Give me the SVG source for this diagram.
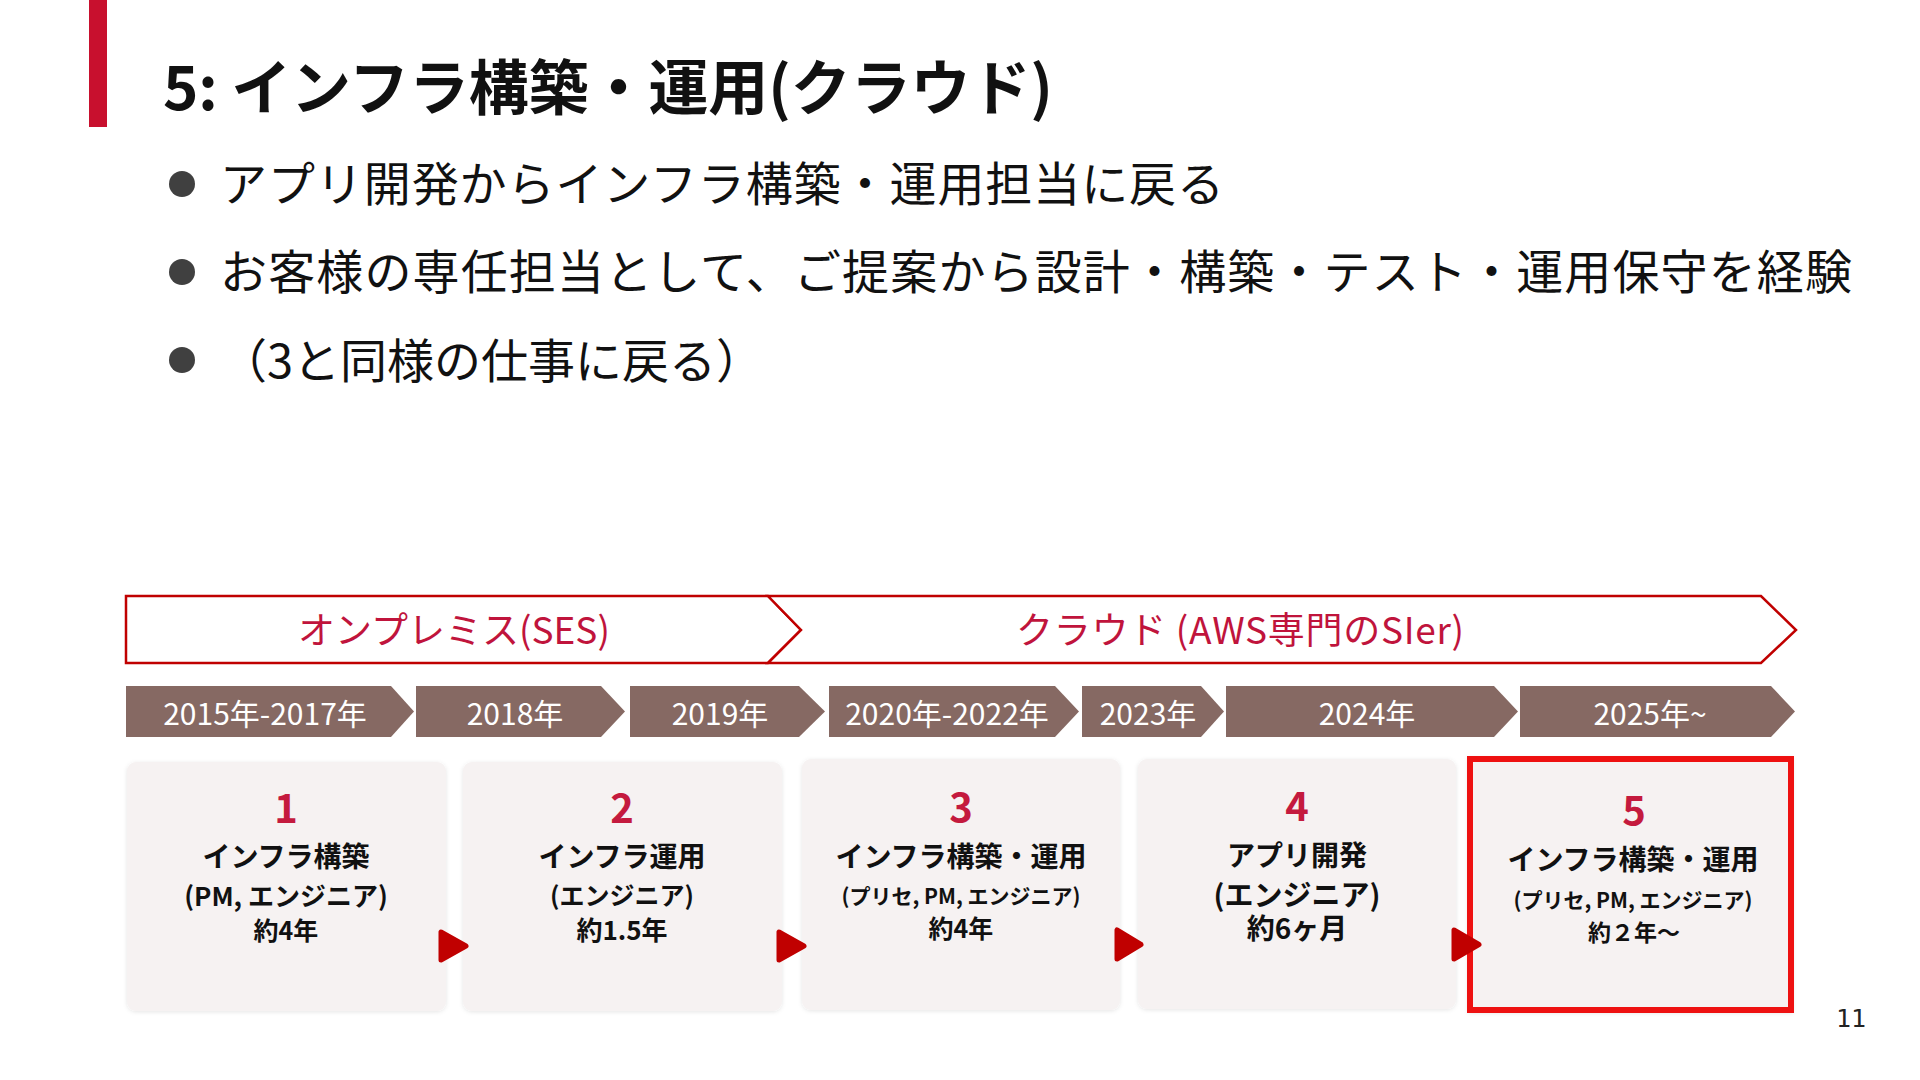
<svg xmlns="http://www.w3.org/2000/svg" width="1920" height="1080" viewBox="0 0 1920 1080">
<defs>
<style>
text{font-family:"Noto Sans CJK JP","Noto Sans",sans-serif}
.title{font-size:60px;font-weight:700;fill:#111}
.bul{font-size:47px;fill:#111}
.dot{fill:#404040}
.band{fill:#fff;stroke:#C00000;stroke-width:2.5;stroke-linejoin:miter}
.bandt{font-size:37px;fill:#C0143C;text-anchor:middle}
.yr{fill:#866963}
.yrt{font-size:30px;fill:#fff;text-anchor:middle}
.card{fill:#F6F2F2}
.num{font-size:40px;font-weight:700;fill:#C41A3E;text-anchor:middle}
.main{font-size:28px;font-weight:700;fill:#111;text-anchor:middle}
.sub{font-weight:700;fill:#111;text-anchor:middle}
.arr{fill:#C00000;stroke:#C00000;stroke-width:5;stroke-linejoin:round}
</style>
<filter id="sh" x="-5%" y="-5%" width="110%" height="110%">
<feDropShadow dx="0" dy="1" stdDeviation="2" flood-color="#000" flood-opacity="0.10"/>
</filter>
</defs>
<rect width="1920" height="1080" fill="#fff"/>
<rect x="89" y="0" width="18" height="127" fill="#C8102E"/>
<text class="title" x="163" y="110" textLength="890" lengthAdjust="spacing">5: インフラ構築・運用(クラウド)</text>

<g id="bullets">
<circle class="dot" cx="182" cy="184" r="13"/>
<text class="bul" x="220" y="201" textLength="1004" lengthAdjust="spacing">アプリ開発からインフラ構築・運用担当に戻る</text>
<circle class="dot" cx="182" cy="272" r="13"/>
<text class="bul" x="220" y="289" textLength="1632" lengthAdjust="spacing">お客様の専任担当として、ご提案から設計・構築・テスト・運用保守を経験</text>
<circle class="dot" cx="182" cy="360" r="13"/>
<text class="bul" x="220" y="378">（3と同様の仕事に戻る）</text>
</g>

<g id="band-onprem">
<path class="band" d="M126,596 H768 L801,630 L768,663 H126 Z"/>
<text class="bandt" x="454" y="644">オンプレミス(SES)</text>
</g>
<g id="band-cloud">
<path class="band" d="M768,596 H1761 L1796,630 L1761,663 H768 L801,630 Z"/>
<text class="bandt" x="1240" y="644" textLength="448" lengthAdjust="spacing">クラウド (AWS専門のSIer)</text>
</g>

<g id="years">
<g id="y1"><path class="yr" d="M126,686 H391 L414,711.5 L391,737 H126 Z"/><text class="yrt" x="265" y="725">2015年-2017年</text></g>
<g id="y2"><path class="yr" d="M416,686 H601 L625,711.5 L601,737 H416 Z"/><text class="yrt" x="515" y="725">2018年</text></g>
<g id="y3"><path class="yr" d="M630,686 H799 L825,711.5 L799,737 H630 Z"/><text class="yrt" x="720" y="725">2019年</text></g>
<g id="y4"><path class="yr" d="M829,686 H1055 L1079,711.5 L1055,737 H829 Z"/><text class="yrt" x="947" y="725">2020年-2022年</text></g>
<g id="y5"><path class="yr" d="M1082,686 H1201 L1224,711.5 L1201,737 H1082 Z"/><text class="yrt" x="1148" y="725">2023年</text></g>
<g id="y6"><path class="yr" d="M1226,686 H1494 L1518,711.5 L1494,737 H1226 Z"/><text class="yrt" x="1367" y="725">2024年</text></g>
<g id="y7"><path class="yr" d="M1520,686 H1771 L1795,711.5 L1771,737 H1520 Z"/><text class="yrt" x="1650" y="725">2025年~</text></g>
</g>

<g id="card1">
<rect class="card" filter="url(#sh)" x="127" y="762" width="319" height="249" rx="9"/>
<text class="num" x="286" y="823">1</text>
<text class="main" x="286" y="867">インフラ構築</text>
<text class="sub" x="286" y="906" font-size="26">(PM, エンジニア)</text>
<text class="sub" x="286" y="940" font-size="25">約4年</text>
</g>
<g id="card2">
<rect class="card" filter="url(#sh)" x="463" y="762" width="319" height="249" rx="9"/>
<text class="num" x="622" y="823">2</text>
<text class="main" x="622" y="867">インフラ運用</text>
<text class="sub" x="622" y="905" font-size="25">(エンジニア)</text>
<text class="sub" x="622" y="940" font-size="26">約1.5年</text>
</g>
<g id="card3">
<rect class="card" filter="url(#sh)" x="802" y="759" width="318" height="251" rx="9"/>
<text class="num" x="961" y="822">3</text>
<text class="main" x="961" y="867">インフラ構築・運用</text>
<text class="sub" x="961" y="904" font-size="21">(プリセ, PM, エンジニア)</text>
<text class="sub" x="961" y="938" font-size="25">約4年</text>
</g>
<g id="card4">
<rect class="card" filter="url(#sh)" x="1138" y="759" width="318" height="250" rx="9"/>
<text class="num" x="1297" y="821">4</text>
<text class="main" x="1297" y="866">アプリ開発</text>
<text class="sub" x="1297" y="906" font-size="29">(エンジニア)</text>
<text class="sub" x="1297" y="939" font-size="28">約6ヶ月</text>
</g>
<g id="card5">
<rect class="card" filter="url(#sh)" x="1468" y="757" width="325" height="255"/>
<rect x="1470" y="759" width="321" height="251" fill="none" stroke="#EE1111" stroke-width="6"/>
<text class="num" x="1634" y="825">5</text>
<text class="main" x="1633" y="870">インフラ構築・運用</text>
<text class="sub" x="1633" y="908" font-size="21">(プリセ, PM, エンジニア)</text>
<text class="sub" x="1634" y="941" font-size="23">約２年～</text>
</g>

<g id="connectors">
<path class="arr" d="M441,932 L441,960 L466,946 Z"/>
<path class="arr" d="M779,932 L779,960 L804,946 Z"/>
<path class="arr" d="M1117,930 L1117,959 L1141,944.5 Z"/>
<path class="arr" d="M1454,930 L1454,959 L1479,944.5 Z"/>
</g>

<text x="1851" y="1027" font-size="25" fill="#222" text-anchor="middle" style="font-family:'DejaVu Sans Mono',monospace">11</text>
</svg>
